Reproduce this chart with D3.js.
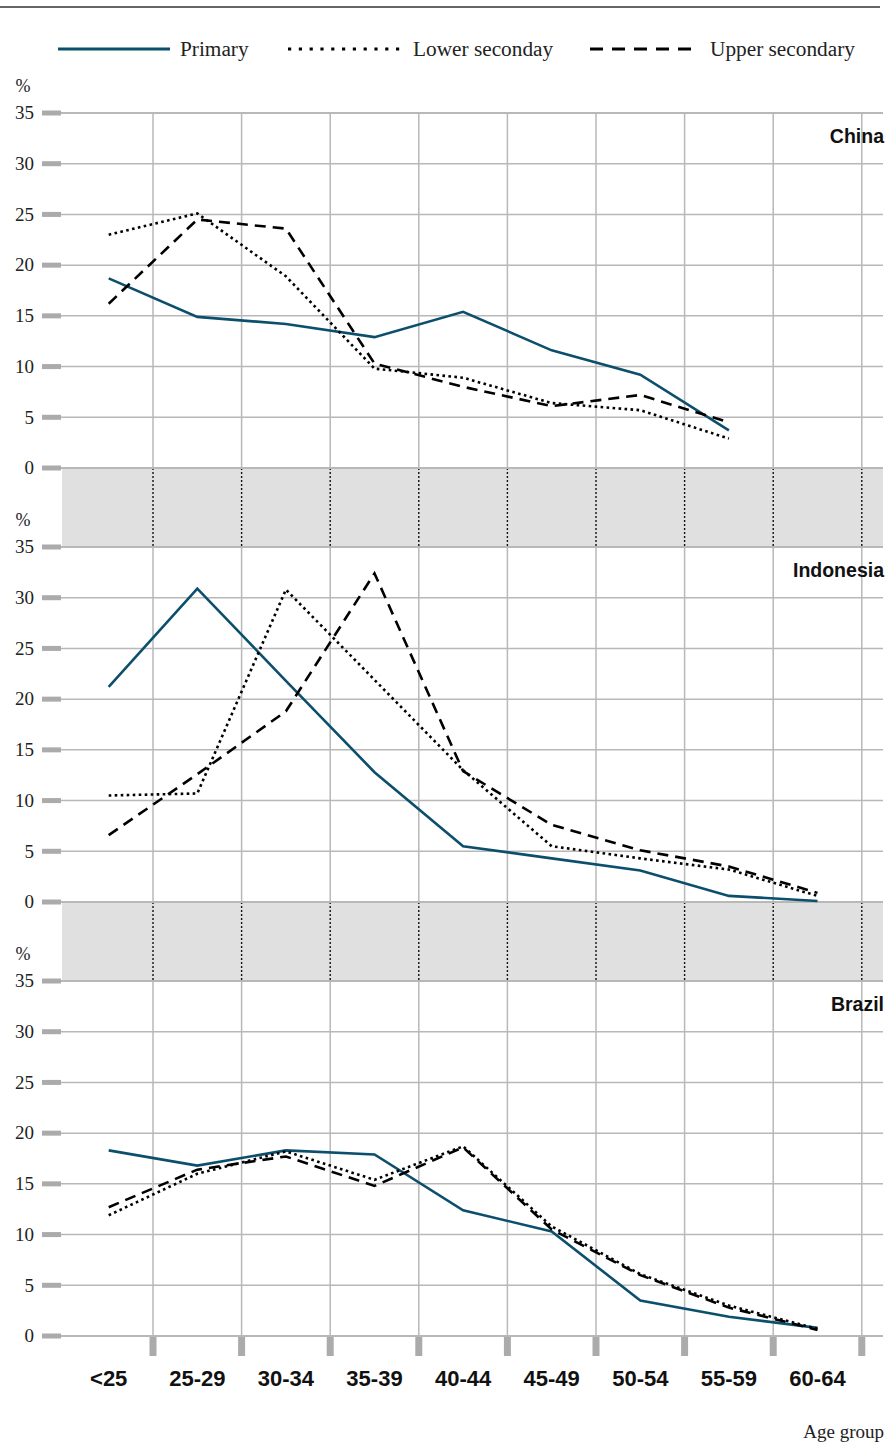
<!DOCTYPE html>
<html>
<head>
<meta charset="utf-8">
<script src="https://cdn.jsdelivr.net/npm/d3@7"></script>
<style>
  html, body { margin: 0; padding: 0; background: #fff; }
  svg { display: block; }
</style>
</head>
<body>
<svg id="chart" width="893" height="1445"></svg>
<script>
// ---------- data ----------
const categories = ["<25", "25-29", "30-34", "35-39", "40-44", "45-49", "50-54", "55-59", "60-64"];
const yTicks = [0, 5, 10, 15, 20, 25, 30, 35];
const seriesNames = ["Primary", "Lower seconday", "Upper secondary"];
const countries = ["China", "Indonesia", "Brazil"];

const chinaPrimary = [18.7, 14.9, 14.2, 12.9, 15.4, 11.6, 9.2, 3.7, null];
const chinaLower   = [23.0, 25.1, 18.9, 9.8, 8.9, 6.4, 5.7, 2.9, null];
const chinaUpper   = [16.2, 24.5, 23.6, 10.3, 8.0, 6.1, 7.2, 4.5, null];

const indonesiaPrimary = [21.2, 30.9, 21.8, 12.8, 5.5, 4.3, 3.1, 0.6, 0.1];
const indonesiaLower   = [10.5, 10.7, 30.8, 21.9, 13.0, 5.5, 4.3, 3.2, 0.6];
const indonesiaUpper   = [6.6, 12.6, 18.8, 32.4, 12.9, 7.6, 5.1, 3.5, 0.9];

const brazilPrimary = [18.3, 16.8, 18.3, 17.9, 12.4, 10.3, 3.5, 1.9, 0.8];
const brazilLower   = [11.9, 16.0, 18.2, 15.4, 18.7, 10.8, 6.1, 3.0, 0.7];
const brazilUpper   = [12.7, 16.4, 17.7, 14.8, 18.6, 10.5, 6.0, 2.8, 0.6];

const panels = [
  { name: countries[0], series: [chinaPrimary, chinaLower, chinaUpper] },
  { name: countries[1], series: [indonesiaPrimary, indonesiaLower, indonesiaUpper] },
  { name: countries[2], series: [brazilPrimary, brazilLower, brazilUpper] }
];

// ---------- styles ----------
const serif = "'Liberation Serif', 'Times New Roman', serif";
const sans = "'Liberation Sans', Arial, sans-serif";
const gridColor = "#b8b8b8";
const tickColor = "#ababab";
const styles = [
  { stroke: "#0c4f6d", dash: null, width: 2.6, legendDash: null },
  { stroke: "#000", dash: "2.6,3.4", width: 2.6, legendDash: "3.2,7.6" },
  { stroke: "#000", dash: "11,7", width: 2.6, legendDash: "13,9" }
];

const svg = d3.select("#chart");

// ---------- layout ----------
const plotLeft = 61, plotRight = 883;
const x = d3.scaleBand().domain(categories).range([64.4, 861.8]);
const bw = x.bandwidth();
const panelBottoms = [468, 902, 1336];
const panelHeight = 355;

// top rule
svg.append("line").attr("x1", 0).attr("x2", 880).attr("y1", 7).attr("y2", 7)
  .attr("stroke", "#666").attr("stroke-width", 2);

// legend
const legendItems = [
  { x1: 58, x2: 170, tx: 180 },
  { x1: 288, x2: 400, tx: 413 },
  { x1: 590, x2: 700, tx: 710 }
];
legendItems.forEach((li, i) => {
  svg.append("line").attr("x1", li.x1).attr("x2", li.x2).attr("y1", 49).attr("y2", 49)
    .attr("stroke", styles[i].stroke).attr("stroke-width", 2.8)
    .attr("stroke-dasharray", styles[i].legendDash);
  svg.append("text").attr("x", li.tx).attr("y", 56)
    .attr("font-family", serif).attr("font-size", 21.3).attr("fill", "#222")
    .text(seriesNames[i]);
});

// grey bands between panels
for (let p = 0; p < 2; p++) {
  const top = panelBottoms[p];
  const bottom = panelBottoms[p + 1] - panelHeight;
  svg.append("rect").attr("x", 62).attr("y", top).attr("width", plotRight - 62)
    .attr("height", bottom - top).attr("fill", "#e0e0e0");
  categories.forEach(c => {
    svg.append("line").attr("x1", x(c) + bw).attr("x2", x(c) + bw)
      .attr("y1", top).attr("y2", bottom)
      .attr("stroke", "#111").attr("stroke-width", 1.4).attr("stroke-dasharray", "2,2");
  });
}

panels.forEach((panel, p) => {
  const y0 = panelBottoms[p];
  const y = d3.scaleLinear().domain([0, 35]).range([y0, y0 - panelHeight]);
  const g = svg.append("g");

  // vertical gridlines
  categories.forEach(c => {
    g.append("line").attr("x1", x(c) + bw).attr("x2", x(c) + bw)
      .attr("y1", y(35)).attr("y2", y(0))
      .attr("stroke", gridColor).attr("stroke-width", 1.5);
  });
  // horizontal gridlines + tick marks + labels
  yTicks.forEach(t => {
    g.append("line").attr("x1", plotLeft).attr("x2", plotRight)
      .attr("y1", y(t)).attr("y2", y(t))
      .attr("stroke", gridColor).attr("stroke-width", (t === 0 || t === 35) ? 2 : 1.5);
    g.append("rect").attr("x", 42).attr("y", y(t) - 2.5).attr("width", 19).attr("height", 5)
      .attr("fill", tickColor);
    g.append("text").attr("x", 34).attr("y", y(t)).attr("dy", "0.33em")
      .attr("text-anchor", "end").attr("font-family", serif).attr("font-size", 19)
      .attr("fill", "#222").text(t);
  });
  // percent label
  g.append("text").attr("x", 23).attr("y", y(35) - 21).attr("text-anchor", "middle")
    .attr("font-family", serif).attr("font-size", 18).attr("fill", "#222").text("%");
  // country label
  g.append("text").attr("x", 884).attr("y", y(35) + 30).attr("text-anchor", "end")
    .attr("font-family", sans).attr("font-weight", "bold").attr("font-size", 19.5)
    .attr("fill", "#111").text(panel.name);

  // series lines
  panel.series.forEach((vals, i) => {
    const line = d3.line()
      .defined(d => d.v !== null)
      .x(d => x(d.c) + bw / 2)
      .y(d => y(d.v));
    g.append("path")
      .datum(categories.map((c, k) => ({ c: c, v: vals[k] })))
      .attr("d", line)
      .attr("fill", "none")
      .attr("stroke", styles[i].stroke)
      .attr("stroke-width", styles[i].width)
      .attr("stroke-dasharray", styles[i].dash)
      .attr("stroke-linejoin", "miter");
  });
});

// bottom x ticks and labels
const yBottom = panelBottoms[2];
categories.forEach(c => {
  svg.append("rect").attr("x", x(c) + bw - 3.5).attr("y", yBottom + 1).attr("width", 7).attr("height", 19)
    .attr("fill", tickColor);
  svg.append("text").attr("x", x(c) + bw / 2).attr("y", yBottom + 50)
    .attr("text-anchor", "middle").attr("font-family", sans).attr("font-weight", "bold")
    .attr("font-size", 22).attr("fill", "#111").text(c);
});

svg.append("text").attr("x", 884).attr("y", 1438).attr("text-anchor", "end")
  .attr("font-family", serif).attr("font-size", 19).attr("fill", "#222").text("Age group");
</script>
</body>
</html>
